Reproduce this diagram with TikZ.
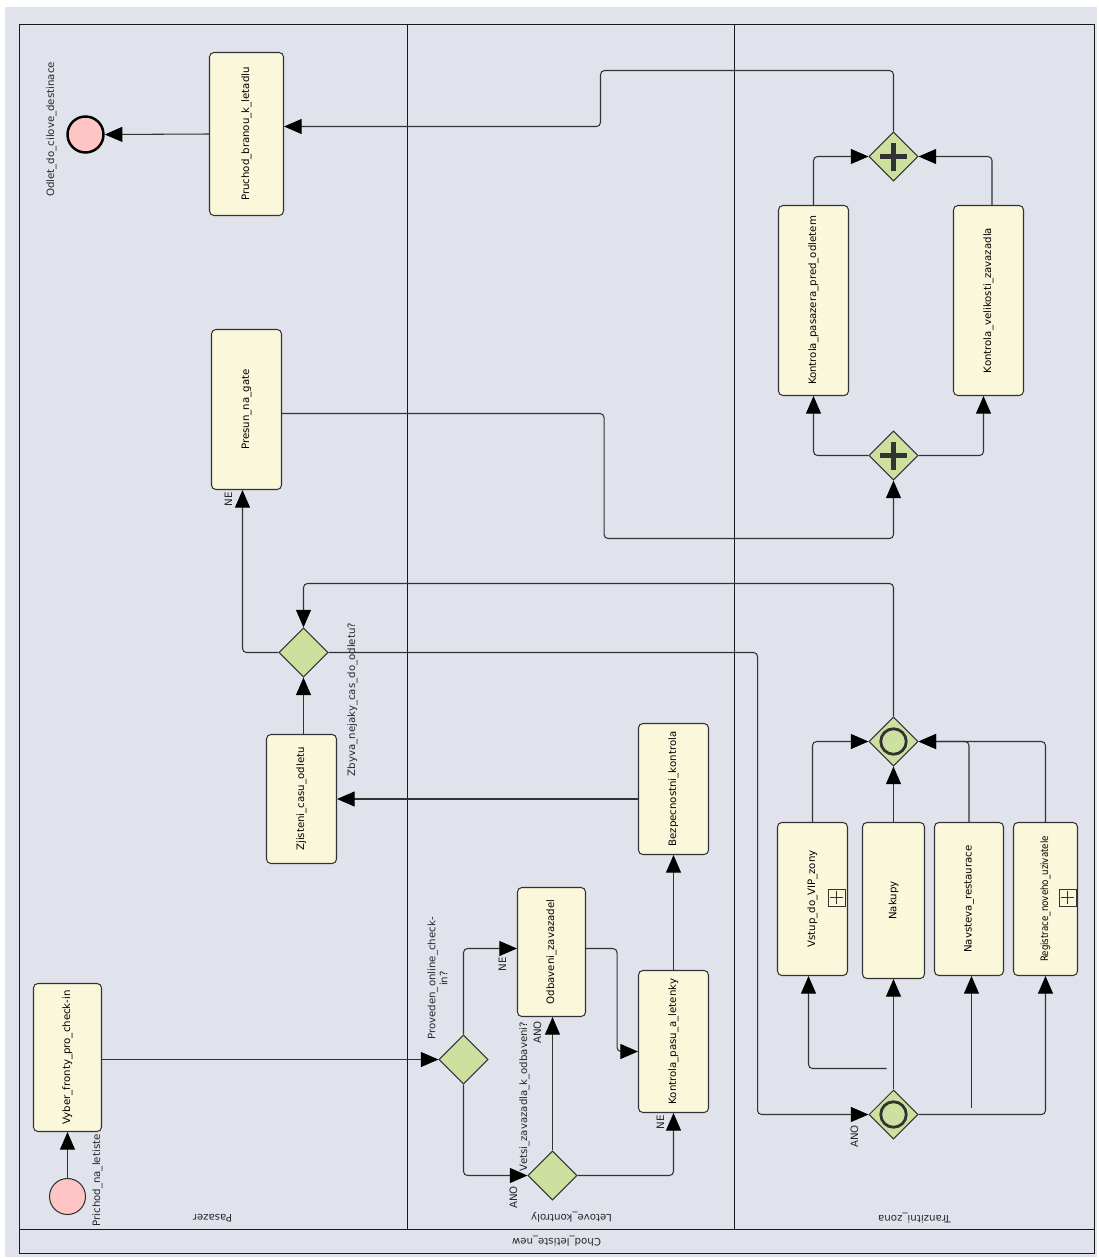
\documentclass[tikz,border=0pt]{standalone}
\usepackage{fontspec}
\setmainfont{DejaVu Sans}
\usepackage{graphicx}
\usetikzlibrary{arrows.meta,shapes.geometric,positioning,calc}

\definecolor{bgblue}{HTML}{E0E3EC}
\definecolor{taskfill}{HTML}{FBF7DB}
\definecolor{gwfill}{HTML}{CDE0A0}
\definecolor{evfill}{HTML}{FFC5C5}
\definecolor{strokegray}{HTML}{333333}

\newcommand{\lbl}{\fontsize{5.8}{6.8}\selectfont}

\tikzset{
  wh/.style 2 args={minimum width=#1*0.02cm, minimum height=#2*0.02cm},
  lanes/.style={draw=black!90, line width=0.7pt},
  task/.style={draw=strokegray, fill=taskfill, rounded corners=2.5pt, inner sep=0pt, line width=0.6pt, font=\lbl},
  gw/.style={diamond, draw=strokegray, fill=gwfill, line width=0.6pt, inner sep=0pt, minimum width=0.98cm, minimum height=0.98cm},
  pargw/.style={gw, path picture={
      \draw[line width=2.6pt] ([xshift=-0.27cm]path picture bounding box.center) -- ([xshift=0.27cm]path picture bounding box.center)
        ([yshift=-0.28cm]path picture bounding box.center) -- ([yshift=0.28cm]path picture bounding box.center);}},
  orgw/.style={gw, path picture={
      \draw[line width=1.6pt] (path picture bounding box.center) circle (0.255cm);}},
  ev/.style={circle, draw=strokegray, fill=evfill, inner sep=0pt, minimum size=0.72cm, line width=0.6pt},
  endev/.style={ev, draw=black, line width=1.4pt},
  collapsed/.style={draw=strokegray, fill=taskfill, inner sep=0pt, minimum size=0.34cm, line width=0.5pt, path picture={
      \draw[line width=0.5pt] ([xshift=-0.13cm]path picture bounding box.center) -- ([xshift=0.13cm]path picture bounding box.center)
        ([yshift=-0.13cm]path picture bounding box.center) -- ([yshift=0.13cm]path picture bounding box.center);}},
  flow/.style={draw=strokegray, line width=0.6pt, rounded corners=2.3pt, -{Triangle[length=10pt,width=8.5pt,color=black]}},
  txt/.style={font=\lbl, inner sep=0pt, text=black!85},
}

\begin{document}
\begin{tikzpicture}[x=0.02cm, y=-0.02cm]
\useasboundingbox (0,0) rectangle (1099,1258);
\fill[bgblue] (5,7) rectangle (1097,1257);

\begin{scope}[shift={(0.5,0.5)}]
% pool and lanes
\draw[lanes] (19,24) rectangle (1094,1253);
\draw[lanes] (19,1229) -- (1094,1229);
\draw[lanes] (407,24) -- (407,1229);
\draw[lanes] (734,24) -- (734,1229);
\node[txt, rotate=180] (pool) at (556,1241) {Chod\_letiste\_new};
\node[txt, rotate=180] (lanepas) at (212,1218) {Pasazer};
\node[txt, rotate=180] (lanelet) at (571,1217) {Letove\_kontroly};
\node[txt, rotate=180] (lanetra) at (914,1218) {Tranzitni\_zona};

% events
\node[ev] (prichod) at (67,1196) {};
\node[endev] (odlet) at (85,134) {};
\node[txt, rotate=90] (lprichod) at (97,1180) {Prichod\_na\_letiste};
\node[txt, rotate=90] (lodlet) at (51,129) {Odlet\_do\_cilove\_destinace};

% tasks
\node[task, wh={74}{163}] (pruchod) at (246,133.5) {\rotatebox{90}{Pruchod\_branou\_k\_letadlu}};
\node[task, wh={70}{160}] (presun) at (246,409) {\rotatebox{90}{Presun\_na\_gate}};
\node[task, wh={70}{129}] (zjisteni) at (301,798.5) {\rotatebox{90}{Zjisteni\_casu\_odletu}};
\node[task, wh={68}{148}] (vyber) at (67,1057) {\rotatebox{90}{Vyber\_fronty\_pro\_check-in}};
\node[task, wh={68}{129}] (odbaveni) at (551,951.5) {\rotatebox{90}{Odbaveni\_zavazadel}};
\node[task, wh={70}{142}] (pasu) at (673,1041) {\rotatebox{90}{Kontrola\_pasu\_a\_letenky}};
\node[task, wh={70}{131}] (bezpecnost) at (673,788.5) {\rotatebox{90}{Bezpecnostni\_kontrola}};
\node[task, wh={70}{190}] (pasazera) at (813,300) {\rotatebox{90}{Kontrola\_pasazera\_pred\_odletem}};
\node[task, wh={70}{190}] (velikost) at (988,300) {\rotatebox{90}{Kontrola\_velikosti\_zavazadla}};
\node[task, wh={70}{153}] (vstup) at (812,898.5) {\rotatebox{90}{Vstup\_do\_VIP\_zony}};
\node[task, wh={62}{156}] (nakupy) at (893,900) {\rotatebox{90}{Nakupy}};
\node[task, wh={69}{153}] (navsteva) at (968.5,898.5) {\rotatebox{90}{Navsteva\_restaurace}};
\node[task, wh={64}{153}] (registrace) at (1045,898.5) {\rotatebox{90}{\scalebox{0.85}[1]{Registrace\_noveho\_uzivatele}}};
\node[collapsed] (vstupsub) at (836,897) {};
\node[collapsed] (regsub) at (1067,897) {};

% gateways
\node[gw] (zbyva) at (303,652) {};
\node[gw] (proveden) at (463,1059) {};
\node[gw] (vetsi) at (552,1175) {};
\node[pargw] (parjoin) at (893,156) {};
\node[pargw] (parsplit) at (893,455) {};
\node[orgw] (orjoin) at (893,741) {};
\node[orgw] (orsplit) at (893,1114) {};
\node[txt, rotate=90] (lzbyva) at (352,699) {Zbyva\_nejaky\_cas\_do\_odletu?};
\node[txt, rotate=90, align=center] (lproveden) at (437,978) {Proveden\_online\_check-\\in?};
\node[txt, rotate=90] (lvetsi) at (524,1096) {Vetsi\_zavazadla\_k\_odbaveni?};

% sequence flows
\draw[flow] (prichod) -- (vyber);
\draw[flow] (vyber.east |- proveden.west) -- (proveden.west);
\draw[flow] (proveden.north) |- ([yshift=0.07cm]odbaveni.west);
\draw[flow] (proveden.south) |- (vetsi.west);
\draw[flow] (vetsi.north) -- (vetsi.north |- odbaveni.south);
\draw[flow] (vetsi.east) -| (pasu.south);
\draw[flow] ([yshift=0.07cm]odbaveni.east) -- ++(31,0) |- ([yshift=-0.2cm]pasu.west);
\draw[flow] (pasu.north) -- (bezpecnost.south);
\draw[flow] (bezpecnost.west |- zjisteni.east) -- (zjisteni.east);
\draw[flow] (zbyva.south |- zjisteni.north) -- (zbyva.south);
\draw[flow] (zbyva.west) -| ([xshift=-0.08cm]presun.south);
\draw[flow] (zbyva.east) -- ++(429,0) |- (orsplit.west);
\draw[flow] ([yshift=-0.08cm]presun.east) -| ++(322,125) -| (parsplit.south);
\draw[flow] (parsplit.west) -| (pasazera.south);
\draw[flow] (parsplit.east) -| ([xshift=-0.1cm]velikost.south);
\draw[flow] (pasazera.north) |- (parjoin.west);
\draw[flow] ([xshift=0.07cm]velikost.north) |- (parjoin.east);
\draw[flow] (parjoin.north) |- (600,70) |- ([yshift=0.15cm]pruchod.east);
\draw[flow] (pruchod.west) -- (odlet.east);

% tranzitni zona
\coordinate (vipfork) at (886,1068);
\coordinate (restfork) at (971,1107);
\draw[flow] (orsplit.north) -- (orsplit.north |- nakupy.south);
\draw[flow] (vipfork) -| ([xshift=-0.08cm]vstup.south);
\draw[flow] (restfork) -- (restfork |- navsteva.south);
\draw[flow] (orsplit.east) -| (registrace.south);
\draw[flow] (vstup.north) |- (orjoin.west);
\draw[flow] (orjoin.south |- nakupy.north) -- (orjoin.south);
\draw[flow] (navsteva.north) |- (orjoin.east);
\draw[flow] (registrace.north) |- (orjoin.east);
\draw[flow] (orjoin.north) -- ++(0,-133) -| (zbyva.north);

% flow labels
\node[txt, rotate=90] (lne1) at (502,964) {NE};
\node[txt, rotate=90] (lano1) at (513,1197) {ANO};
\node[txt, rotate=90] (lano2) at (537,1032) {ANO};
\node[txt, rotate=90] (lne2) at (660,1122) {NE};
\node[txt, rotate=90] (lne3) at (228,499) {NE};
\node[txt, rotate=90] (lano3) at (854,1136) {ANO};
\end{scope}
\end{tikzpicture}
\end{document}
